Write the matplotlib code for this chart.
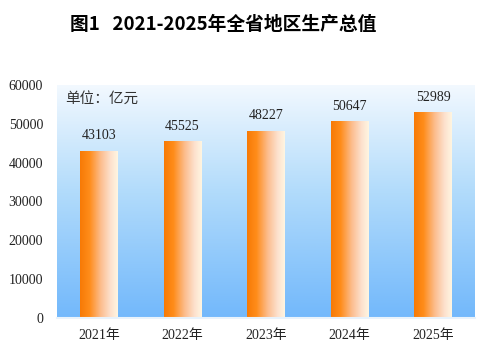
import numpy as np
import matplotlib
matplotlib.use('Agg')
import matplotlib.pyplot as plt
from matplotlib.colors import LinearSegmentedColormap

years = ['2021年', '2022年', '2023年', '2024年', '2025年']
gdp = [43103, 45525, 48227, 50647, 52989]
yticks = [0, 10000, 20000, 30000, 40000, 50000, 60000]

serif = ['Liberation Serif', 'Noto Sans CJK SC']
cjk = ['Noto Sans CJK SC', 'DejaVu Sans']

bg_cmap = LinearSegmentedColormap.from_list(
    'bg', [(0.0, '#72b8fb'), (0.55, '#b3dcfb'), (1.0, '#f3f9ff')])
bar_cmap = LinearSegmentedColormap.from_list(
    'bar', [(0.0, '#f77a05'), (0.25, '#ff8c1a'), (0.55, '#fcbd8e'),
            (0.8, '#fde0cc'), (1.0, '#fff6e2')])

fig = plt.figure(figsize=(4.93, 3.57), dpi=100)
ax = fig.add_axes([57 / 493, 1 - 318 / 357, 418 / 493, 233 / 357])

x = np.arange(len(years))
ax.set_xlim(-0.5, len(years) - 0.5)
ax.set_ylim(0, 60000)

# background gradient
grad = np.linspace(0, 1, 256).reshape(-1, 1)
ax.imshow(grad, cmap=bg_cmap, origin='lower', aspect='auto',
          extent=[-0.5, len(years) - 0.5, 0, 60000], zorder=0)

bars = ax.bar(x, gdp, width=0.45, color='none', edgecolor='none', zorder=2)
hgrad = np.linspace(0, 1, 256).reshape(1, -1)
for b in bars:
    bx, by = b.get_x(), b.get_y()
    im = ax.imshow(hgrad, cmap=bar_cmap, aspect='auto',
                   extent=[bx, bx + b.get_width(), by, by + b.get_height()],
                   zorder=2)
    im.set_clip_path(b)

for xi, v in zip(x, gdp):
    ax.text(xi, v + 2200, str(v), ha='center', va='bottom',
            fontsize=10, family=serif, color='#222222', zorder=3)

ax.set_xlim(-0.5, len(years) - 0.5)
ax.set_ylim(0, 60000)

ax.set_xticks(x)
ax.set_xticklabels(years, family=serif, fontsize=10, color='#222222')
ax.set_yticks(yticks)
ax.set_yticklabels([str(t) for t in yticks], family=serif, fontsize=10,
                   color='#222222')
ax.tick_params(length=0, pad=10)
ax.tick_params(axis='x', pad=8)

for s in ['top', 'right', 'left']:
    ax.spines[s].set_visible(False)
ax.spines['bottom'].set_color('#e8f2fb')
ax.spines['bottom'].set_linewidth(1.5)
ax.spines['bottom'].set_zorder(4)

ax.text(0.02, 0.94, '单位：亿元', transform=ax.transAxes, ha='left',
        va='center', fontsize=10.5, family=cjk, color='#333333', zorder=3)

fig.text(70 / 493, 1 - 25 / 357, '图1   2021-2025年全省地区生产总值',
         ha='left', va='center', fontsize=13.5, fontweight='bold',
         family=cjk, color='black')

fig.savefig('out.png', dpi=100)
